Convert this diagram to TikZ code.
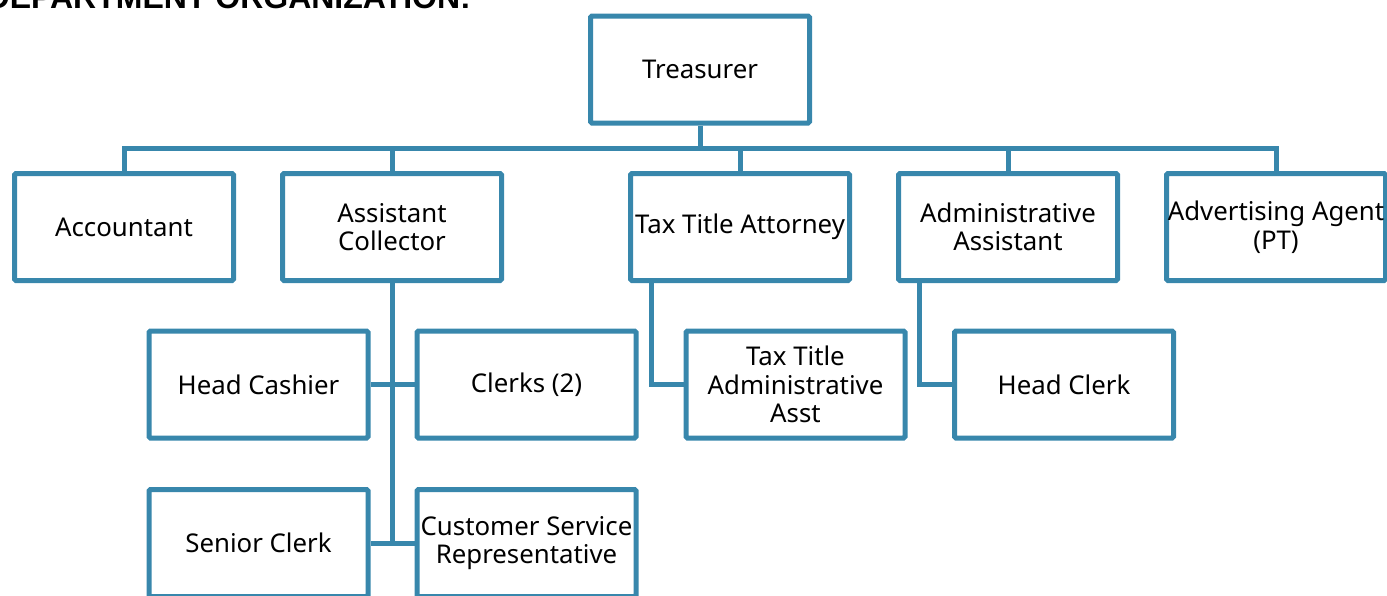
\documentclass[tikz,border=0pt]{standalone}
\usepackage{fontspec}
\setmainfont{Noto Sans}
\newfontfamily\headfont{Liberation Sans}
\definecolor{orgblue}{RGB}{56,135,172}
\begin{document}
\begin{tikzpicture}[x=1pt,y=-1pt,
  orgbox/.style={draw=orgblue,line width=5pt,rounded corners=1.5pt,fill=white,
    minimum width=219pt,minimum height=107pt,inner sep=0pt,align=center,
    font=\fontsize{25.8}{28.5}\selectfont,
    execute at begin node={\vspace*{6pt}}},
  link/.style={draw=orgblue,line width=5pt}]
\useasboundingbox (0,0) rectangle (1387,595);
% heading (cut off at the top)
\node[anchor=base east,inner sep=0pt,font=\headfont\bfseries\fontsize{32}{32}\selectfont] (head) at (471,8) {DEPARTMENT ORGANIZATION:};
\coordinate (bus) at (700,148.5);
\node[orgbox] (tre) at (700,69.5) {Treasurer};
\node[orgbox] (acc) at (124,227) {Accountant};
\node[orgbox] (ac) at (392,227) {Assistant\\Collector};
\node[orgbox] (tta) at (740,227) {Tax Title Attorney};
\node[orgbox] (aa) at (1008,227) {Administrative\\Assistant};
\node[orgbox] (ada) at (1276,227) {Advertising Agent\\(PT)};
\node[orgbox] (hc) at (258.5,384.5) {Head Cashier};
\node[orgbox] (cl) at (526.5,384.5) {Clerks (2)};
\node[orgbox] (ttaa) at (795.5,384.5) {Tax Title\\Administrative\\Asst};
\node[orgbox] (hcl) at (1064,384.5) {Head Clerk};
\node[orgbox] (sc) at (258.5,543) {Senior Clerk};
\node[orgbox] (csr) at (526.5,543) {Customer Service\\Representative};
\draw[link] (tre.south) -- (bus);
\draw[link,line join=miter] (acc.north) |- (bus) -| (ada.north);
\draw[link] (ac.north) -- (ac.north |- bus);
\draw[link] (tta.north) -- (tta.north |- bus);
\draw[link] (aa.north) -- (aa.north |- bus);
\coordinate (acbot) at (ac.south |- sc.east);
\draw[link] (ac.south) -- (acbot);
\draw[link] (hc.east) -- (cl.west);
\draw[link] (sc.east) -- (csr.west);
\coordinate (ttax) at (651,0);
\coordinate (aax) at (919,0);
\draw[link,line join=miter] (ttax |- tta.south) |- (ttaa.west);
\draw[link,line join=miter] (aax |- aa.south) |- (hcl.west);
\end{tikzpicture}
\end{document}
